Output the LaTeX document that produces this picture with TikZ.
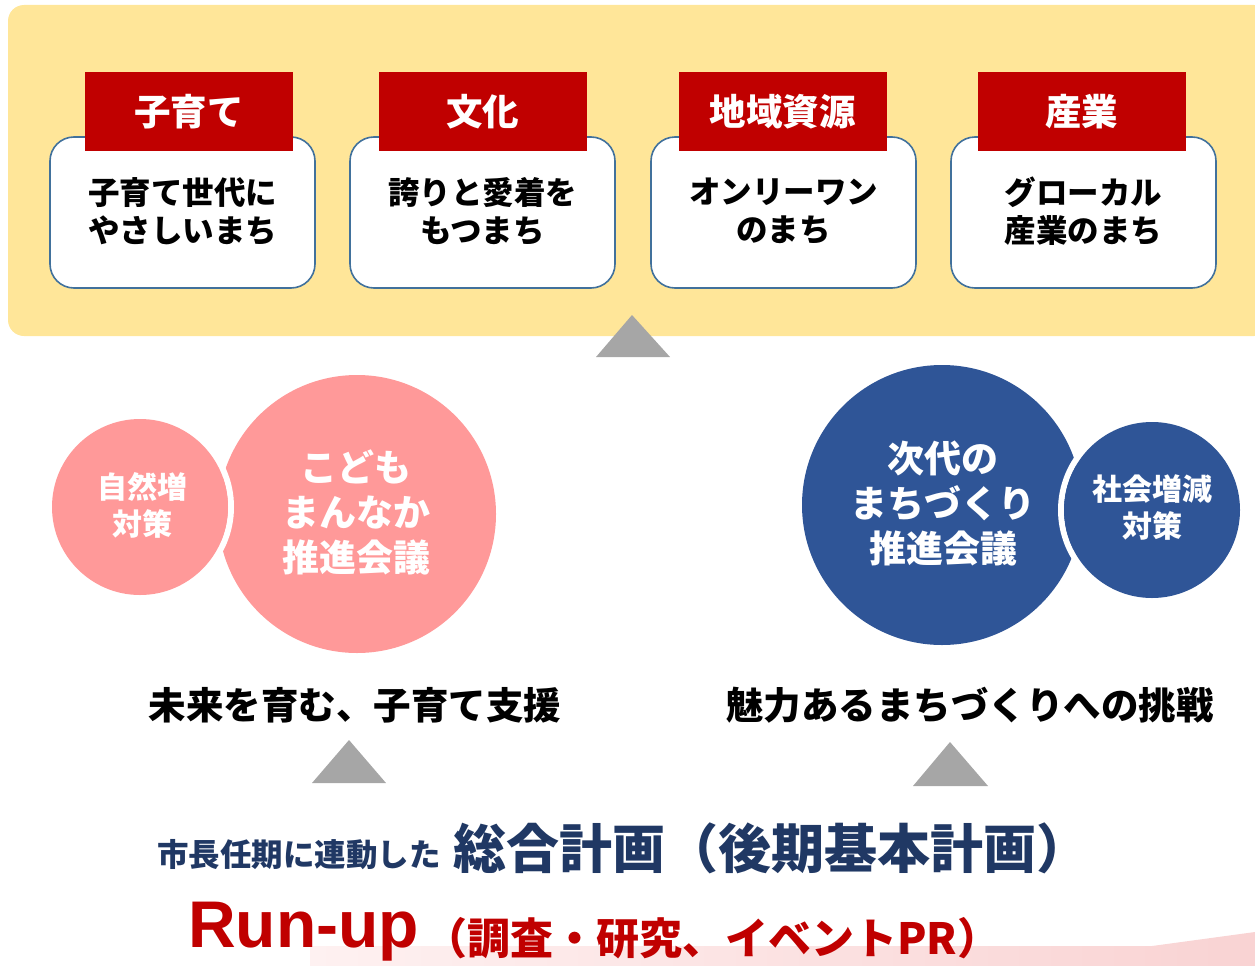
\documentclass[tikz,border=0pt]{standalone}
\usepackage{fontspec}
\setmainfont{Noto Sans CJK JP}
\newfontfamily\latinb{Liberation Sans}
\definecolor{yellowbg}{HTML}{FFE699}
\definecolor{redlab}{HTML}{C00000}
\definecolor{boxborder}{HTML}{41719C}
\definecolor{pinkc}{HTML}{FF9999}
\definecolor{bluec}{HTML}{2F5597}
\definecolor{navy}{HTML}{203864}
\definecolor{trigray}{HTML}{A6A6A6}
\definecolor{pinklight}{HTML}{FEF1F1}
\definecolor{pinkdark}{HTML}{F9D3D3}
\tikzset{
  panel/.style={draw=boxborder, line width=1.6pt, fill=white, rounded corners=24pt},
  labelbox/.style={fill=redlab, draw=none},
  labeltext/.style={text=white, font=\fontsize{36.5}{40}\selectfont\bfseries},
  boxtext/.style={text=black, align=center, font=\fontsize{31.5}{38}\selectfont\bfseries},
  tri/.style={fill=trigray, draw=none},
  bigtext/.style={text=white, align=center, font=\fontsize{37}{45}\selectfont\bfseries},
  smalltext/.style={text=white, align=center, font=\fontsize{30}{37}\selectfont\bfseries},
  headtext/.style={text=black, font=\fontsize{37.5}{40}\selectfont\bfseries},
}
\begin{document}
\begin{tikzpicture}[x=1pt,y=-1pt]
\useasboundingbox (0,0) rectangle (1255,966);
% background panel
\fill[yellowbg, rounded corners=16pt] (8,5) rectangle (1270,336);
% bottom pink band
\shade[left color=pinklight, right color=pinkdark] (310,966) -- (310,946) -- (1152,946) -- (1255,932) -- (1255,966) -- cycle;

% four theme boxes
\foreach \x/\lx/\lab/\la/\lb [count=\i] in {50/189/子育て/子育て世代に/やさしいまち, 350/482.5/文化/誇りと愛着を/もつまち, 651/782.5/地域資源/オンリーワン/のまち, 951/1081.5/産業/グローカル/産業のまち}{
  \draw[panel] (\x,137) rectangle ++(265,151);
  \node[labelbox, minimum width=208pt, minimum height=79pt, inner sep=0pt] (lab\i) at (\lx,111.5) {};
  \node[labeltext] at (lab\i) {\lab};
  \node[boxtext] (txt\i) at (\x+132.5,211) {\la\\\lb};
}

% triangles
\fill[tri] (632,315) -- (670,357) -- (596,357) -- cycle;
\fill[tri] (349,740) -- (386,783) -- (312,783) -- cycle;
\fill[tri] (950,742) -- (988,786) -- (913,786) -- cycle;

% pink circles
\fill[pinkc] (357,514) circle (139);
\draw[white, line width=6pt] (140,507) circle (91);
\fill[pinkc] (140,507) circle (88);
\node[bigtext] (kodomo) at (356,512) {こども\\まんなか\\推進会議};
\node[smalltext] (shizen) at (142,505) {自然増\\対策};

% blue circles
\fill[bluec] (942,505) circle (140);
\draw[white, line width=6pt] (1152,510) circle (91);
\fill[bluec] (1152,510) circle (88);
\node[bigtext] (jidai) at (943,503) {次代の\\まちづくり\\推進会議};
\node[smalltext] (shakai) at (1152,508) {社会増減\\対策};

% headings
\node[headtext] (h1) at (355,705) {未来を育む、子育て支援};
\node[headtext] (h2) at (970,705) {魅力あるまちづくりへの挑戦};

% bottom texts
\node[text=navy, font=\fontsize{31.5}{34}\selectfont\bfseries, anchor=west, inner sep=0pt] (sub) at (157,855) {市長任期に連動した};
\node[text=navy, font=\fontsize{53}{58}\selectfont\bfseries, anchor=west, inner sep=0pt] (main) at (453,848) {総合計画（後期基本計画）};
\node[text=redlab, font=\latinb\fontsize{66}{70}\selectfont\bfseries, anchor=west, inner sep=0pt] (run) at (188,932) {Run-up};
\node[text=redlab, font=\fontsize{43}{47}\selectfont\bfseries, anchor=west, inner sep=0pt] (runsub) at (424,938) {（調査・研究、イベントPR）};
\end{tikzpicture}
\end{document}
